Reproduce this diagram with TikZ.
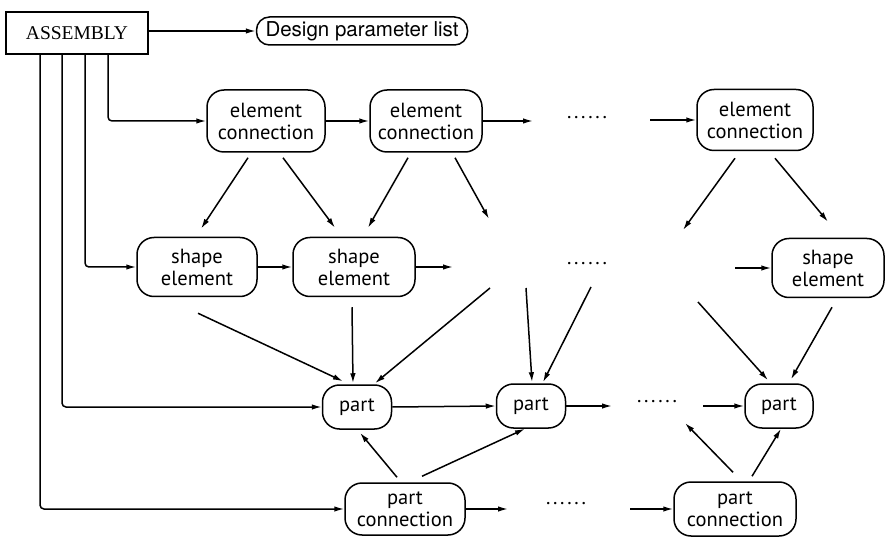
\documentclass[tikz,border=0pt]{standalone}
\usepackage{fontspec}
\setmainfont{PT Sans}
\newfontfamily\headfont{TeX Gyre Heros}
\newfontfamily\asmfont{Liberation Serif}
\usetikzlibrary{arrows.meta}

% a row of six evenly spaced dots
\newcommand\sixdots{\makebox[40pt]{.\hfill.\hfill.\hfill.\hfill.\hfill.}}

\begin{document}
\begin{tikzpicture}[x=1pt,y=-1pt,
  nodefont/.style={font=\fontsize{20.5}{22}\selectfont},
  box/.style={draw, line width=1.5pt, rounded corners=17pt, align=center,
    inner sep=0pt, nodefont},
  partbox/.style={box, minimum width=69pt, minimum height=44pt},
  dotrow/.style={inner sep=0pt, nodefont},
  arr/.style={line width=1.5pt, -{Latex[length=10pt,width=5.5pt]}},
  feed/.style={arr, rounded corners=4pt}]
\useasboundingbox (0,0) rectangle (886,537);

% top level
\node[draw, line width=1.5pt, minimum width=142pt, minimum height=42pt,
  inner sep=0pt, font=\asmfont\fontsize{19.5}{22}\selectfont] (asm) at (77,33) {ASSEMBLY};
\node[box, rounded corners=13pt, minimum width=211pt, minimum height=28pt,
  font=\headfont\fontsize{20.5}{22}\selectfont] (dpl) at (362,31) {Design parameter list};

% element connections
\node[box, minimum width=118pt, minimum height=62pt] (ec1) at (266,121) {element\\connection};
\node[box, minimum width=112pt, minimum height=62pt] (ec2) at (426,121) {element\\connection};
\node[box, minimum width=116pt, minimum height=61pt] (ec3) at (755,120) {element\\connection};

% shape elements
\node[box, minimum width=120pt, minimum height=59pt] (se1) at (197,267) {shape\\element};
\node[box, minimum width=122pt, minimum height=59pt] (se2) at (354,267) {shape\\element};
\node[box, minimum width=112pt, minimum height=59pt] (se3) at (828,268) {shape\\element};

% parts
\node[partbox] (p1) at (357,407) {part};
\node[partbox] (p2) at (531,406) {part};
\node[partbox, minimum width=68pt] (p3) at (779,406) {part};

% part connections
\node[box, minimum width=120pt, minimum height=52pt] (pc1) at (405,509) {part\\connection};
\node[box, minimum width=122pt, minimum height=54pt] (pc2) at (735,509) {part\\connection};

% continuation dots
\node[dotrow] (d1) at (587,118) {\sixdots};
\node[dotrow] (d2) at (587,264) {\sixdots};
\node[dotrow] (d3) at (657,402) {\sixdots};
\node[dotrow] (d4) at (566,504) {\sixdots};

% free ends of the open connectors
\coordinate (e1) at (533,121);
\coordinate (e2) at (650,120);
\coordinate (s1) at (453,267);
\coordinate (s2) at (735,268);
\coordinate (f1) at (489,219);
\coordinate (f2) at (683,230);
\coordinate (g1) at (490,288);
\coordinate (g2) at (526,288);
\coordinate (g3) at (591,287);
\coordinate (g4) at (698,302);
\coordinate (h1) at (612,406);
\coordinate (h2) at (703,406);
\coordinate (k1) at (508,509);
\coordinate (k2) at (630,509);
\coordinate (m1) at (685,423);

% assembly outputs
\draw[arr] (asm.east |- dpl.west) -- (dpl.west);
\draw[feed] ([xshift=31pt]asm.south) |- (ec1.west);
\draw[feed] ([xshift=8pt]asm.south) |- (se1.west);
\draw[feed] ([xshift=-15pt]asm.south) |- (p1.west);
\draw[feed] ([xshift=-37pt]asm.south) |- (pc1.west);

% element connection chain
\draw[arr] (ec1.east) -- (ec2.west);
\draw[arr] (ec2.east) -- (e1);
\draw[arr] (e2) -- (ec3.west);

% shape element chain
\draw[arr] (se1.east) -- (se2.west);
\draw[arr] (se2.east) -- (s1);
\draw[arr] (s2) -- (se3.west);

% element connections to shape elements
\draw[arr] ([shift={(-18,5)}]ec1.south) -- ([shift={(4,-8)}]se1.north);
\draw[arr] ([shift={(17,5)}]ec1.south) -- ([shift={(-19,-9)}]se2.north);
\draw[arr] ([shift={(-18,5)}]ec2.south) -- ([shift={(14,-9)}]se2.north);
\draw[arr] ([shift={(29,5)}]ec2.south) -- (f1);
\draw[arr] ([shift={(-20,7)}]ec3.south) -- (f2);
\draw[arr] ([shift={(20,7)}]ec3.south) -- ([shift={(0,-16)}]se3.north);

% shape elements to parts
\draw[arr] ([shift={(1,16)}]se1.south) -- ([shift={(-14,-3)}]p1.north);
\draw[arr] ([shift={(-2,10)}]se2.south) -- ([shift={(-4,-1)}]p1.north);
\draw[arr] (g1) -- ([shift={(18,-1)}]p1.north);
\draw[arr] (g2) -- ([shift={(1,-1)}]p2.north);
\draw[arr] (g3) -- ([shift={(12,-1)}]p2.north);
\draw[arr] (g4) -- ([shift={(-11,-3)}]p3.north);
\draw[arr] ([shift={(4,9)}]se3.south) -- ([shift={(12,-4)}]p3.north);

% part chain
\draw[arr] (p1.east) -- (p2.west);
\draw[arr] (p2.east) -- (h1);
\draw[arr] (h2) -- (p3.west);

% part connection chain
\draw[arr] (pc1.east) -- (k1);
\draw[arr] (k2) -- (pc2.west);

% part connections to parts
\draw[arr] ([shift={(-8,-5)}]pc1.north) -- ([shift={(3,3)}]p1.south);
\draw[arr] ([shift={(17,-6)}]pc1.north) -- ([shift={(-6,0)}]p2.south);
\draw[arr] ([shift={(-2,-9)}]pc2.north) -- (m1);
\draw[arr] ([shift={(17,-5)}]pc2.north) -- ([shift={(2,0)}]p3.south);
\end{tikzpicture}
\end{document}
